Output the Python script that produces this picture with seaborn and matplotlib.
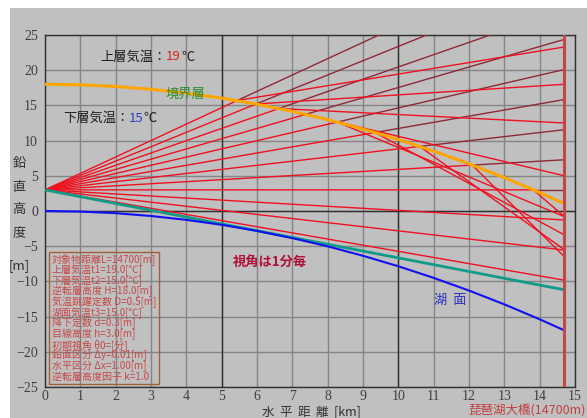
"""
Light-ray paths over Lake Biwa with a temperature inversion layer.
"""
import numpy as np
import pandas as pd
import matplotlib
matplotlib.use("Agg")
import matplotlib.pyplot as plt
from matplotlib.patches import Rectangle
import seaborn as sns

# --- data ------------------------------------------------------------------
DIST_KM = [0, 1, 2, 3, 4, 5, 6, 7, 8, 9, 10, 11, 12, 13, 14, 14.7]
BOUNDARY_M = [18.0, 17.92, 17.69, 17.29, 16.74, 16.04, 15.17, 14.15,
              12.98, 11.64, 10.15, 8.50, 6.70, 4.74, 2.62, 1.04]
LAKE_M = [0.0, -0.08, -0.31, -0.71, -1.26, -1.96, -2.83, -3.85,
          -5.02, -6.36, -7.85, -9.50, -11.30, -13.26, -15.38, -16.96]
TANGENT_X = [0.0, 14.7]
TANGENT_Y = [3.0, -11.2]

EYE_X = 0.0
EYE_Y = 3.0
TARGET_KM = 14.7

# upward rays, 0' .. 8' (one arc-minute apart)
UP_ANGLES = [0, 1, 2, 3, 4, 5, 6, 7, 8]
HIT_X = [13.82, 12.09, 10.60, 9.34, 8.27, 7.38, 6.62, 5.97, 5.44]
HIT_Y = [3.00, 6.52, 9.17, 11.15, 12.63, 13.73, 14.56, 15.20, 15.70]
BENT_END_Y = [-0.8, -6.5, -5.5, -3.4, -0.8, 5.0, 12.5, 18.0, 23.3]
STRAIGHT_END_X = [14.7, 14.7, 14.7, 14.7, 14.7, 14.7, 12.6, 10.8, 9.45]
STRAIGHT_END_Y = [3.0, 7.28, 11.55, 15.83, 20.1, 24.38, 25.0, 25.0, 25.0]

# downward rays, -1' .. -3'
DOWN_ANGLES = [-1, -2, -3]
DOWN_END_Y = [-1.28, -5.55, -9.83]

X_TICKS = list(range(0, 16))
Y_TICKS = list(range(-25, 30, 5))

PARAM_LINES = [
    "対象物距離L=14700[m]",
    "上層気温t1=19.0[℃]",
    "下層気温t2=15.0[℃]",
    "逆転層高度 H=18.0[m]",
    "気温跳躍定数 D=0.5[m]",
    "湖面気温t3=15.0[℃]",
    "降下定数 d=0.3[m]",
    "目線高度 h=3.0[m]",
    "初期視角 θ0=[分]",
    "鉛直区分 Δy=0.01[m]",
    "水平区分 Δx=1.00[m]",
    "逆転層高度因子 k=1.0",
]

# --- style -----------------------------------------------------------------
GRAY = "#c0c0c0"
BRIGHT = "#f01020"
DARK = "#8e2a38"

sns.set_theme(style="whitegrid", rc={
    "axes.facecolor": GRAY,
    "axes.edgecolor": "#303030",
    "grid.color": "#858585",
    "grid.linewidth": 1.0,
})
plt.rcParams["font.family"] = ["Noto Sans CJK JP", "DejaVu Sans"]

W, H = 587, 418
fig = plt.figure(figsize=(W / 100, H / 100), dpi=100, facecolor="white")
fig.patches.append(Rectangle((10 / W, 0), 1, 1 - 8 / H, transform=fig.transFigure,
                             facecolor=GRAY, edgecolor="none", zorder=-5))
ax = fig.add_axes([45 / W, 1 - 387 / H, 530 / W, 352 / H])
renderer = fig.canvas.get_renderer()


def px(x, y):
    return x / W, 1 - y / H


def line(xs, ys, color, lw, z):
    sns.lineplot(x=xs, y=ys, sort=False, estimator=None, color=color,
                 linewidth=lw, ax=ax, zorder=z, legend=False)


def chain(x, y, parts, fs):
    # consecutive text pieces in different colours
    for s, c in parts:
        t = fig.text(*px(x, y), s, fontsize=fs, va="center", color=c)
        x += t.get_window_extent(renderer).width


# straight reference continuation above the boundary
for hx, hy, ex, ey in zip(HIT_X, HIT_Y, STRAIGHT_END_X, STRAIGHT_END_Y):
    line([hx, ex], [hy, ey], DARK, 1.0, 3)

# refracted / reflected rays
for hx, hy, ey in zip(HIT_X, HIT_Y, BENT_END_Y):
    line([EYE_X, hx, TARGET_KM], [EYE_Y, hy, ey], BRIGHT, 1.0, 4)

for ey in DOWN_END_Y:
    line([EYE_X, TARGET_KM], [EYE_Y, ey], BRIGHT, 1.0, 4)

line(DIST_KM, BOUNDARY_M, "#ffa500", 2.2, 5)
line(TANGENT_X, TANGENT_Y, "#109a88", 2.0, 5)
line(DIST_KM, LAKE_M, "#1010f0", 1.5, 5)

ax.axvline(TARGET_KM, color="#c04848", lw=2.2, zorder=6)
for v in (5, 10):
    ax.axvline(v, color="#303030", lw=1.0, zorder=2)
ax.axhline(0, color="#303030", lw=1.0, zorder=2)

ax.set_xlim(0, 15)
ax.set_ylim(-25, 25)
ax.set_xticks(X_TICKS)
ax.set_yticks(Y_TICKS)
ax.tick_params(length=0, labelsize=10, colors="#404040", pad=2)
for lab in ax.get_xticklabels() + ax.get_yticklabels():
    lab.set_family("Liberation Serif")
ax.tick_params(axis="y", pad=5)
ax.set_xlabel("")
ax.set_ylabel("")
for s in ax.spines.values():
    s.set_color("#303030")
    s.set_linewidth(1.0)

# --- annotations ---------------------------------------------------------
fs = 9.5
chain(100, 57, [("上層気温：", "#202020"), ("19", "#e02020"), ("℃", "#202020")], fs)
chain(63, 118, [("下層気温：", "#202020"), ("15", "#3040c0"), ("℃", "#202020")], fs)
fig.text(*px(165, 94), "境界層", fontsize=fs, va="center", color="#2a8a2a")
fig.text(*px(233, 262), "視角は1分毎", fontsize=fs, va="center",
         color="#b0103a", fontweight="bold")
fig.text(*px(434, 300), "湖  面", fontsize=fs, va="center", color="#3030c0")

for ch, yy in zip(["鉛", "直", "高", "度", "[m]"], [163, 187, 210, 233, 266]):
    fig.text(*px(19, yy), ch, fontsize=fs, ha="center", va="center", color="#303030")

fig.text(*px(262, 418), "水  平  距  離  [km]", fontsize=9, va="bottom", color="#303030")
fig.text(*px(586, 418), "琵琶湖大橋(14700m)", fontsize=9, ha="right",
         va="bottom", color="#c04040")

# parameter box
fig.patches.append(Rectangle(px(49, 384), 110 / W, 132 / H, transform=fig.transFigure,
                             facecolor="none", edgecolor="#a0603c", lw=1.0, zorder=10))
for i, txt in enumerate(PARAM_LINES):
    fig.text(*px(52, 260 + i * 10.6), txt, fontsize=7.2, va="center", ha="left",
             color="#c84848", zorder=11)

fig.savefig("out.png", dpi=100, facecolor="white")
